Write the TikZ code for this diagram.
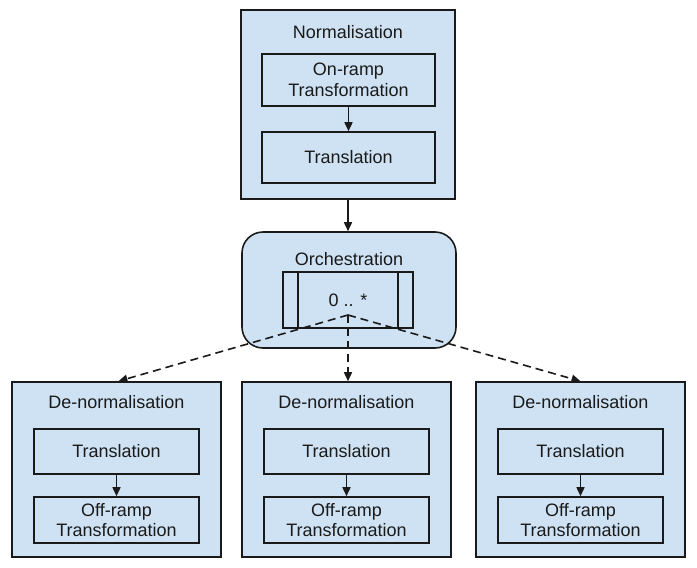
\documentclass[tikz,border=0pt]{standalone}
\usepackage{fontspec}
\setmainfont{Liberation Sans}
\usetikzlibrary{arrows.meta}
\definecolor{boxfill}{HTML}{CFE2F3}
\definecolor{inkc}{HTML}{1A1A1A}
\begin{document}
\begin{tikzpicture}[x=1pt,y=-1pt,
  font=\fontsize{18}{20.5}\selectfont,
  shell/.style={draw=inkc, fill=boxfill, line width=1.6pt, rectangle, inner sep=0pt, align=center, text=inkc},
  lbl/.style={inner sep=0pt, text=inkc},
  solidarrow/.style={draw=inkc, line width=1.6pt, -{Triangle[length=9pt,width=8pt]}},
  dasharrow/.style={draw=inkc, line width=1.6pt, dash pattern=on 8pt off 5pt, -{Triangle[length=9pt,width=8pt]}}]
\useasboundingbox (0,0) rectangle (697,568);
% Normalisation
\node[shell, minimum width=214pt, minimum height=189pt] (norm) at (348,104.5) {};
\node[lbl] (normt) at (348,32) {Normalisation};
\node[shell, minimum width=173pt, minimum height=52pt] (onramp) at (348.5,80) {On-ramp\\Transformation};
\node[shell, minimum width=173pt, minimum height=51pt] (trans) at (348.5,157.5) {Translation};
\draw[solidarrow] (onramp) -- (trans);
% Orchestration
\node[shell, rounded corners=21pt, minimum width=214pt, minimum height=116pt] (orch) at (349,290) {};
\node[lbl] (orcht) at (349,259) {Orchestration};
\node[shell, minimum width=130pt, minimum height=56pt] (mult) at (348,300) {};
\node[lbl] (multt) at (348,300) {0 .. *};
\draw[draw=inkc, line width=1.6pt] ([xshift=16pt]mult.north west) -- ([xshift=16pt]mult.south west);
\draw[draw=inkc, line width=1.6pt] ([xshift=-16pt]mult.north east) -- ([xshift=-16pt]mult.south east);
\draw[solidarrow] (norm.south) -- (norm.south |- orch.north);
\coordinate (fan) at (348,315);
% De-normalisation boxes
\foreach \n/\cx in {a/116.5, b/346.5, c/580.5}{
  \node[shell, minimum width=209pt, minimum height=175pt] (dn\n) at (\cx,469.5) {};
  \node[lbl] (dnt\n) at (\cx,402) {De-normalisation};
  \node[shell, minimum width=165pt, minimum height=45pt] (tr\n) at (\cx,451.5) {Translation};
  \node[shell, minimum width=165pt, minimum height=46pt] (off\n) at (\cx,520) {Off-ramp\\Transformation};
  \draw[solidarrow] (tr\n) -- (off\n);
}
\draw[dasharrow] (fan) -- ([xshift=2pt]dna.north);
\draw[dasharrow] (fan) -- (fan |- dnb.north);
\draw[dasharrow] (fan) -- (dnc.north);
\end{tikzpicture}
\end{document}
